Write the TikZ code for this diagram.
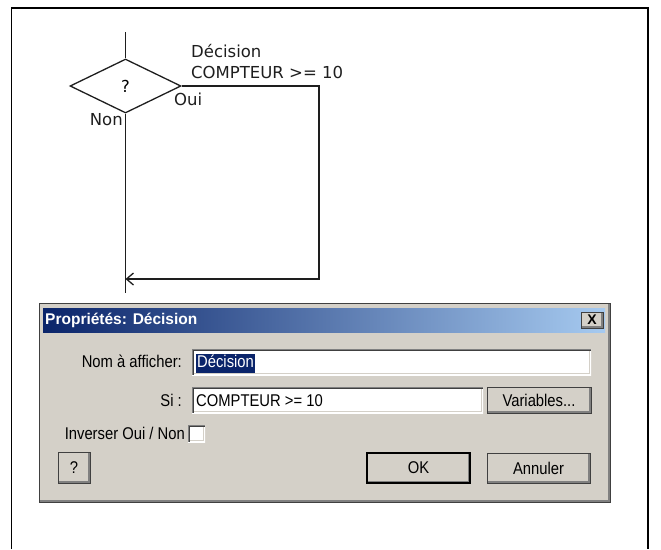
\documentclass[tikz,border=0pt]{standalone}
\usepackage{fontspec}
\setmainfont{Liberation Sans}
\newfontfamily\flowfont{DejaVu Sans}
\newfontfamily\uifont[FakeStretch=0.87]{Liberation Sans}
\usepackage{xcolor}
\usepackage{tikz}
\usetikzlibrary{positioning, calc, shapes.geometric, arrows.meta}

\definecolor{flowInk}{HTML}{1E1E1E}
\definecolor{btnFace}{HTML}{D4D0C8}
\definecolor{btnShadow}{HTML}{808080}
\definecolor{btnDark}{HTML}{404040}
\definecolor{titleDark}{HTML}{0A246A}
\definecolor{titleLight}{HTML}{A6CAF0}

\begin{document}
\begin{tikzpicture}[x=1pt, y=-1pt,
					FlowLine/.style={draw=flowInk, line width=1.3pt},
					FlowText/.style={font=\flowfont\fontsize{16.5}{19}\selectfont, inner sep=0pt, text=flowInk},
					DecisionNode/.style={diamond, draw=flowInk, line width=1.3pt, aspect=2.05, minimum width=111pt, minimum height=54pt, inner sep=0pt, font=\flowfont\fontsize{16.5}{19}\selectfont},
					UiText/.style={font=\uifont\fontsize{17}{20}\selectfont, inner sep=0pt, text=black},
					UiRaised/.style={UiText, fill=btnFace, draw=btnDark, line width=1pt,
						path picture={
							\draw[btnShadow, line width=4pt] (path picture bounding box.south west) -| (path picture bounding box.north east);
							\draw[white, line width=2pt] (path picture bounding box.south west) |- (path picture bounding box.north east);
						}},
					UiField/.style={fill=white, draw=none,
						path picture={
							\draw[btnFace, line width=4pt] (path picture bounding box.south west) -| (path picture bounding box.north east);
							\draw[white, line width=2pt] (path picture bounding box.south west) -| (path picture bounding box.north east);
							\draw[btnDark, line width=4pt] (path picture bounding box.south west) |- (path picture bounding box.north east);
							\draw[btnShadow, line width=2pt] (path picture bounding box.south west) |- (path picture bounding box.north east);
						}}]

				\useasboundingbox (0,0) rectangle (661,549);

				% Frame
				\draw[line width=1.6pt, black] (11.5,549) -- (11.5,8) -- (648,8) -- (648,549);

				% Flowchart nodes
				\coordinate (EntryTop) at (125.5,32);
				\node[DecisionNode] (Decision) at (125.5,86) {?};
				\coordinate (OuiBottom) at (319,279);
				\coordinate (JoinPoint) at (125.5,279);
				\coordinate (ExitBottom) at (125.5,293);
				\node[FlowText, anchor=base west] (DecName) at (191,57) {Décision};
				\node[FlowText, anchor=base west] (DecCond) at (191,78) {COMPTEUR >= 10};
				\node[FlowText, anchor=base west] (OuiLabel) at (174,105) {Oui};
				\node[FlowText, anchor=base east] (NonLabel) at (123,125) {Non};

				% Flowchart lines
				\draw[FlowLine] (EntryTop) -- (Decision.north);
				\draw[FlowLine, -{Straight Barb[length=7pt, width=12pt]}] (Decision.east) -| (OuiBottom) -- (JoinPoint);
				\draw[FlowLine] (Decision.south) -- (ExitBottom);

				% Dialog window
				\node[UiRaised, minimum width=571pt, minimum height=199pt] (Dialog) at (324.5,402.5) {};
				\node[left color=titleDark, right color=titleLight, minimum width=562pt, minimum height=24pt, inner sep=0pt] (TitleBar) at (324,320) {};
				\node[font=\bfseries\fontsize{15.5}{18}\selectfont, text=white, anchor=west, inner sep=0pt] (TitleText) at (45,320) {Propriétés: Décision};
				\node[UiRaised, font=\bfseries\fontsize{14}{16}\selectfont, minimum width=22pt, minimum height=16pt] (CloseBtn) at (592,320) {X};

				% Dialog fields
				\node[UiText, anchor=base east] (NomLabel) at (182,367) {Nom à afficher:};
				\node[UiField, minimum width=399pt, minimum height=26pt] (NomField) at (391.5,362) {};
				\node[UiText, fill=titleDark, text=white, anchor=base west, inner xsep=1pt, inner ysep=1pt, text height=12pt, text depth=5pt] (NomValue) at (196,367) {Décision};

				\node[UiText, anchor=base east] (SiLabel) at (182,406) {Si :};
				\node[UiField, minimum width=291pt, minimum height=26pt] (SiField) at (337.5,400) {};
				\node[UiText, anchor=base west] (SiValue) at (196,406) {COMPTEUR >= 10};
				\node[UiRaised, minimum width=104pt, minimum height=26pt] (VarBtn) at (539,400) {Variables...};

				\node[UiText, anchor=base east] (InvLabel) at (185,439) {Inverser Oui / Non};
				\node[UiField, minimum width=17pt, minimum height=17pt] (InvBox) at (196.5,433.5) {};

				% Buttons
				\node[UiRaised, minimum width=32pt, minimum height=31pt] (HelpBtn) at (74,467.5) {?};
				\node[UiRaised, draw=black, line width=1.6pt, minimum width=103pt, minimum height=30pt] (OkBtn) at (418.5,468) {OK};
				\node[UiRaised, minimum width=103pt, minimum height=30pt] (CancelBtn) at (538.5,468) {Annuler};
			\end{tikzpicture}
\end{document}
